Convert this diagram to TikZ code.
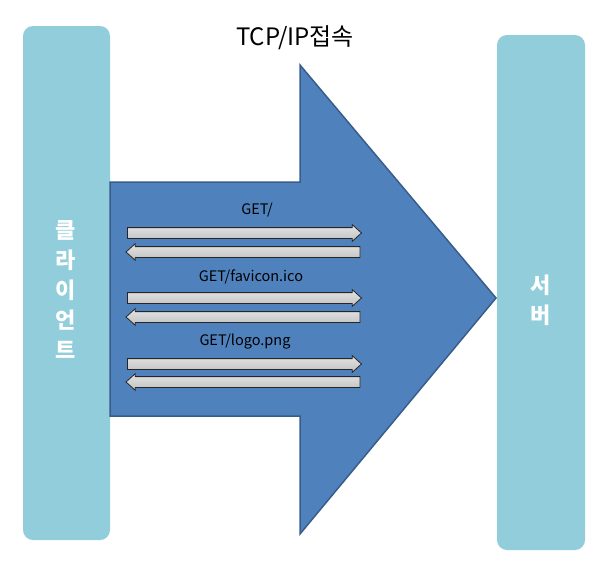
\documentclass[tikz,border=0pt]{standalone}
\usepackage{fontspec}
\setmainfont{Noto Sans CJK KR}
\usetikzlibrary{shapes.arrows}
\definecolor{boxblue}{HTML}{92CDDC}
\definecolor{bigblue}{HTML}{4F81BD}
\definecolor{bigline}{HTML}{385D8A}
\tikzset{
  sidebox/.style={fill=boxblue,rounded corners=10pt},
  msgarrow/.style={single arrow,draw=black!85,line width=0.8pt,top color=white!90!black,bottom color=black!25,
    minimum height=234pt,minimum width=16pt,inner sep=0pt,text height=10pt,text depth=0pt,text width=0pt,
    single arrow head extend=3pt,single arrow tip angle=84,anchor=center},
  msglabel/.style={font=\fontsize{14.5}{17}\selectfont},
  sidetext/.style={text=white,font=\fontsize{22}{30}\selectfont\bfseries,align=center}
}

\begin{document}
\begin{tikzpicture}[x=1pt,y=-1pt]
\useasboundingbox (0,0) rectangle (608,568);
% client and server boxes
\fill[sidebox] (23,26) rectangle (110,540);
\fill[sidebox] (497,35) rectangle (585,550);
% big arrow
\draw[fill=bigblue,draw=bigline,line width=1.5pt,line join=miter]
  (110,182) -- (300,182) -- (300,65) -- (496,298) -- (300,534) -- (300,416) -- (110,416) -- cycle;
\node (title) at (295,38) {\fontsize{24}{28}\selectfont TCP/IP접속};
\node[sidetext] (client) at (66,290) {클\\라\\이\\언\\트};
\node[sidetext] (server) at (541,300) {서\\버};
% requests
\foreach \ya/\yb/\xl/\yl/\txt in {233/252/257/210/{GET/}, 298/317/251/277/{GET/favicon.ico}, 364/382/245/342/{GET/logo.png}}{
  \node[msglabel] at (\xl,\yl) {\txt};
  \node[msgarrow] at (241.5,\ya) {};
  \node[msgarrow,shape border rotate=180] at (246,\yb) {};
}
\end{tikzpicture}
\end{document}
